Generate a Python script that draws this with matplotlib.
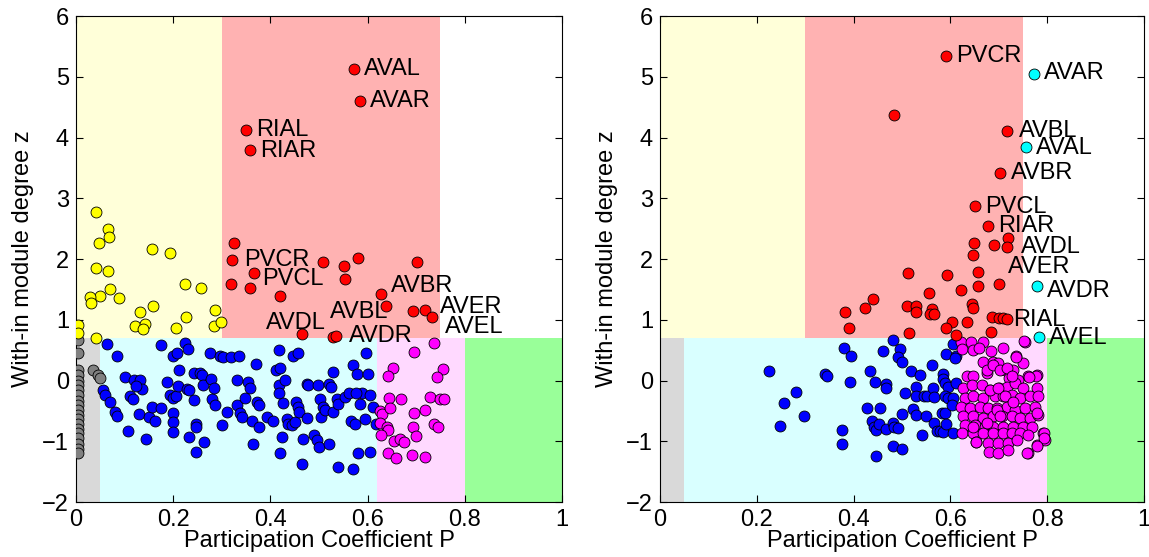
import numpy as np
import matplotlib.pyplot as plt
from matplotlib.patches import Rectangle

plt.rcParams['font.family'] = ['Liberation Sans', 'DejaVu Sans']

# role regions: (P0, P1, z0, z1, colour)
z_cut = 0.7
regions = [
    (0.00, 0.05, -2, z_cut, '#d9d9d9'),
    (0.05, 0.62, -2, z_cut, '#d9ffff'),
    (0.62, 0.80, -2, z_cut, '#ffd9ff'),
    (0.80, 1.00, -2, z_cut, '#99ff99'),
    (0.00, 0.30, z_cut, 6, '#ffffd9'),
    (0.30, 0.75, z_cut, 6, '#ffb2b2'),
]

# ---------- left panel ----------
L_gray_P = [0.004] * 20 + [0.036, 0.045, 0.050]
L_gray_z = [0.67, 0.45, 0.17, 0.09, 0.0, -0.08, -0.16, -0.24, -0.33, -0.41,
            -0.49, -0.57, -0.63, -0.71, -0.79, -0.87, -0.95, -1.04, -1.12, -1.20,
            0.18, 0.09, 0.04]

L_yellow_P = [0.042, 0.066, 0.068, 0.047, 0.156, 0.194, 0.042, 0.065, 0.224, 0.258,
              0.070, 0.050, 0.088, 0.029, 0.030, 0.159, 0.132, 0.287, 0.226, 0.122,
              0.142, 0.137, 0.205, 0.284, 0.299, 0.005, 0.005, 0.041]
L_yellow_z = [2.77, 2.50, 2.36, 2.26, 2.16, 2.10, 1.86, 1.80, 1.59, 1.53,
              1.50, 1.39, 1.36, 1.37, 1.27, 1.22, 1.12, 1.16, 1.04, 0.89,
              0.93, 0.85, 0.87, 0.89, 0.96, 0.91, 0.78, 0.70]

L_red_P = [0.573, 0.584, 0.349, 0.358, 0.326, 0.322, 0.509, 0.551, 0.581, 0.701,
           0.366, 0.318, 0.359, 0.420, 0.554, 0.627, 0.638, 0.693, 0.719, 0.732,
           0.465, 0.528, 0.536]
L_red_z = [5.12, 4.60, 4.13, 3.79, 2.26, 1.99, 1.95, 1.88, 2.01, 1.95,
           1.77, 1.59, 1.53, 1.39, 1.67, 1.43, 1.23, 1.15, 1.16, 1.05,
           0.77, 0.71, 0.74]

L_blue_P = [0.063, 0.084, 0.101, 0.111, 0.117, 0.120, 0.132, 0.135, 0.124, 0.055,
            0.060, 0.070, 0.080, 0.085, 0.108, 0.129, 0.145, 0.150, 0.156, 0.163,
            0.175, 0.176, 0.187, 0.194, 0.199, 0.205, 0.200, 0.207, 0.200, 0.200,
            0.200, 0.209, 0.213, 0.224, 0.230, 0.228, 0.233, 0.233, 0.242, 0.243,
            0.247, 0.247, 0.248, 0.255, 0.259, 0.262, 0.264, 0.275, 0.277, 0.279,
            0.284, 0.287, 0.296, 0.303, 0.301, 0.310, 0.319, 0.336, 0.331, 0.331,
            0.338, 0.341, 0.347, 0.355, 0.358, 0.362, 0.365, 0.371, 0.372, 0.377,
            0.377, 0.393, 0.406, 0.412, 0.420, 0.417, 0.417, 0.418, 0.420, 0.423,
            0.427, 0.431, 0.434, 0.437, 0.444, 0.451, 0.447, 0.456, 0.453, 0.456,
            0.458, 0.465, 0.467, 0.475, 0.478, 0.476, 0.489, 0.496, 0.500, 0.499,
            0.502, 0.504, 0.509, 0.513, 0.520, 0.524, 0.521, 0.528, 0.528, 0.537,
            0.540, 0.540, 0.554, 0.561, 0.566, 0.570, 0.578, 0.570, 0.574, 0.581,
            0.585, 0.588, 0.596, 0.595, 0.600, 0.604, 0.604, 0.612, 0.618, 0.577]
L_blue_z = [0.60, 0.40, 0.06, -0.26, -0.30, 0.01, 0.01, -0.14, -0.09, -0.16,
            -0.23, -0.35, -0.52, -0.58, -0.83, -0.55, -0.97, -0.60, -0.43, -0.67,
            0.58, -0.46, -0.02, -0.24, -0.29, -0.26, 0.41, 0.45, -0.54, -0.68,
            -0.84, -0.09, 0.18, 0.61, 0.52, -0.14, -0.16, -0.93, -0.32, 0.12,
            -0.71, -0.76, -1.18, 0.12, 0.09, -0.08, -1.01, 0.45, 0.03, -0.30,
            -0.13, -0.41, 0.41, 0.38, -0.74, -0.52, 0.38, 0.40, 0.01, -0.41,
            -0.54, -0.60, -0.29, -0.02, -0.13, -0.67, -1.04, 0.27, -0.35, -0.41,
            -0.76, -0.60, -0.67, 0.17, 0.20, -0.08, -0.21, 0.50, -1.19, -0.93,
            -0.37, 0.01, -0.63, -0.71, -0.74, -0.68, 0.40, 0.45, -0.35, -0.43,
            -0.52, -1.37, -0.97, -0.05, -0.08, -0.61, -0.90, -0.98, -1.09, -0.08,
            -0.30, -0.60, -0.43, -0.49, -0.05, -0.10, -1.04, 0.14, -0.52, -0.30,
            -0.38, -1.42, -0.27, -0.21, -0.67, 0.25, 0.10, -1.46, -0.71, -1.20,
            -0.38, -0.21, 0.46, -0.63, 0.10, -0.24, -1.18, -0.43, -0.71, -0.21]

L_mag_P = [0.736, 0.695, 0.652, 0.642, 0.756, 0.743, 0.644, 0.668, 0.729, 0.749,
           0.758, 0.625, 0.629, 0.646, 0.626, 0.640, 0.643, 0.719, 0.696, 0.693,
           0.700, 0.737, 0.744, 0.627, 0.655, 0.667, 0.674, 0.642, 0.659, 0.691,
           0.719]
L_mag_z = [0.62, 0.47, 0.20, 0.07, 0.19, 0.06, -0.28, -0.31, -0.27, -0.31,
           -0.31, -0.50, -0.55, -0.46, -0.70, -0.76, -0.82, -0.49, -0.53, -0.76,
           -0.91, -0.72, -0.76, -0.89, -1.00, -0.97, -1.01, -1.19, -1.27, -1.23,
           -1.26]

L_labels = ['AVAL', 'AVAR', 'RIAL', 'RIAR', 'PVCR', 'PVCL', 'AVBR', 'AVBL',
            'AVER', 'AVEL', 'AVDL', 'AVDR']
L_label_P = [0.593, 0.604, 0.371, 0.379, 0.345, 0.384, 0.649, 0.523,
             0.749, 0.760, 0.391, 0.561]
L_label_z = [5.12, 4.60, 4.13, 3.78, 1.98, 1.67, 1.56, 1.13,
             1.21, 0.88, 0.94, 0.73]

# ---------- right panel ----------
R_red_P = [0.590, 0.483, 0.716, 0.703, 0.650, 0.677, 0.719, 0.649, 0.691, 0.717,
           0.647, 0.512, 0.594, 0.658, 0.700, 0.658, 0.623, 0.555, 0.441, 0.424,
           0.382, 0.390, 0.510, 0.528, 0.528, 0.563, 0.558, 0.567, 0.644, 0.646,
           0.603, 0.635, 0.592, 0.612, 0.515, 0.687, 0.700, 0.709, 0.718, 0.683]
R_red_z = [5.35, 4.37, 4.10, 3.42, 2.87, 2.54, 2.34, 2.26, 2.23, 2.20,
           2.07, 1.77, 1.73, 1.79, 1.59, 1.55, 1.49, 1.44, 1.34, 1.20,
           1.13, 0.86, 1.23, 1.23, 1.13, 1.18, 1.09, 1.09, 1.26, 1.19,
           0.97, 0.96, 0.87, 0.75, 0.79, 1.04, 1.03, 1.03, 1.01, 0.80]

R_cyan_P = [0.772, 0.757, 0.780, 0.783]
R_cyan_z = [5.05, 3.84, 1.55, 0.71]

R_blue_P = [0.226, 0.281, 0.257, 0.298, 0.247, 0.342, 0.346, 0.381, 0.395, 0.393,
            0.377, 0.377, 0.427, 0.434, 0.444, 0.455, 0.460, 0.467, 0.467, 0.439,
            0.442, 0.446, 0.453, 0.468, 0.446, 0.482, 0.496, 0.492, 0.501, 0.481,
            0.483, 0.492, 0.481, 0.501, 0.501, 0.506, 0.519, 0.522, 0.528, 0.528,
            0.530, 0.537, 0.541, 0.546, 0.551, 0.550, 0.563, 0.565, 0.567, 0.566,
            0.572, 0.579, 0.585, 0.582, 0.589, 0.592, 0.605, 0.592, 0.606, 0.612,
            0.610, 0.584, 0.585, 0.589, 0.596, 0.588, 0.596, 0.606, 0.603, 0.612]
R_blue_z = [0.16, -0.19, -0.37, -0.58, -0.75, 0.10, 0.08, 0.53, 0.41, -0.02,
            -0.82, -1.05, -0.45, 0.15, -0.02, -0.45, 0.49, -0.06, -0.13, -0.66,
            -0.77, -0.81, -0.71, -0.79, -1.25, 0.66, 0.52, 0.38, 0.30, -0.70,
            -0.77, -0.78, -1.07, -1.13, -0.55, -0.20, 0.15, -0.47, -0.11, -0.26,
            -0.57, 0.09, -0.90, -0.26, -0.26, -0.58, 0.26, -0.13, -0.27, -0.70,
            -0.83, -0.83, -0.84, -0.54, -0.54, -0.71, -0.87, 0.44, 0.60, 0.41,
            0.37, 0.11, 0.03, -0.04, -0.11, -0.26, -0.29, -0.29, -0.40, -0.04]

R_mag_P = [0.623, 0.642, 0.667, 0.754, 0.625, 0.647, 0.660, 0.685, 0.708, 0.668,
           0.689, 0.736, 0.751, 0.699, 0.713, 0.729, 0.761, 0.778, 0.634, 0.647,
           0.675, 0.722, 0.740, 0.627, 0.644, 0.665, 0.682, 0.701, 0.716, 0.733,
           0.751, 0.778, 0.630, 0.647, 0.668, 0.692, 0.709, 0.727, 0.744, 0.764,
           0.782, 0.623, 0.640, 0.661, 0.678, 0.696, 0.716, 0.733, 0.754, 0.775,
           0.627, 0.647, 0.668, 0.689, 0.706, 0.727, 0.744, 0.764, 0.782, 0.630,
           0.651, 0.671, 0.689, 0.709, 0.730, 0.751, 0.768, 0.625, 0.647, 0.668,
           0.689, 0.709, 0.727, 0.744, 0.761, 0.792, 0.654, 0.678, 0.699, 0.720,
           0.737, 0.778, 0.795, 0.680, 0.699, 0.720, 0.761, 0.753, 0.794, 0.793,
           0.778, 0.759, 0.653, 0.777, 0.735, 0.762, 0.778, 0.675, 0.689, 0.702,
           0.716, 0.727, 0.682, 0.699, 0.713, 0.730, 0.696, 0.702, 0.675, 0.647]
R_mag_z = [0.63, 0.64, 0.64, 0.64, 0.52, 0.51, 0.53, 0.48, 0.53, 0.30,
           0.31, 0.40, 0.29, 0.29, 0.18, 0.18, 0.07, 0.09, 0.07, 0.07,
           0.12, 0.04, 0.01, -0.13, -0.07, -0.07, -0.15, -0.13, -0.10, -0.04,
           -0.13, -0.13, -0.29, -0.26, -0.29, -0.26, -0.26, -0.24, -0.29, -0.26,
           -0.26, -0.43, -0.46, -0.43, -0.46, -0.46, -0.43, -0.48, -0.46, -0.43,
           -0.59, -0.59, -0.62, -0.59, -0.59, -0.59, -0.62, -0.62, -0.57, -0.73,
           -0.73, -0.76, -0.76, -0.76, -0.76, -0.76, -0.76, -0.87, -0.87, -0.87,
           -0.87, -0.87, -0.87, -0.87, -0.90, -0.87, -1.01, -1.03, -1.03, -1.03,
           -0.98, -1.06, -0.98, -1.17, -1.19, -1.14, -1.20, 0.65, -0.87, -0.95,
           -1.07, -1.19, -1.01, 0.08, 0.38, 0.06, -0.54, 0.18, 0.26, 0.18,
           0.20, 0.07, -0.15, -0.13, -0.26, -0.35, -0.48, -0.59, -0.70, -0.76]

R_labels = ['PVCR', 'AVAR', 'AVBL', 'AVAL', 'AVBR', 'PVCL', 'RIAR', 'AVDL',
            'AVER', 'AVDR', 'RIAL', 'AVEL']
R_label_P = [0.612, 0.793, 0.742, 0.777, 0.725, 0.671, 0.699, 0.746,
             0.718, 0.800, 0.730, 0.804]
R_label_z = [5.35, 5.06, 4.10, 3.82, 3.42, 2.86, 2.55, 2.20,
             1.87, 1.47, 1.00, 0.70]

fig = plt.figure(figsize=(11.49, 5.57), dpi=100)
ax1 = fig.add_axes([0.0661, 0.0987, 0.423, 0.8725])
ax2 = fig.add_axes([0.5744, 0.0987, 0.4212, 0.8725])

fs = 17
mk = dict(s=62, edgecolors='black', linewidths=0.6, zorder=3)


def setup(ax):
    for p0, p1, z0, z1, c in regions:
        ax.add_patch(Rectangle((p0, z0), p1 - p0, z1 - z0, facecolor=c,
                               edgecolor='none', zorder=0))
    ax.set_xlim(0, 1)
    ax.set_ylim(-2, 6)
    ax.set_xticks([0, 0.2, 0.4, 0.6, 0.8, 1])
    ax.set_xticklabels(['0', '0.2', '0.4', '0.6', '0.8', '1'])
    ax.set_yticks(range(-2, 7))
    ax.tick_params(direction='in', top=True, right=True, length=5,
                   labelsize=fs, pad=5)
    ax.set_xlabel('Participation Coefficient P', fontsize=fs, labelpad=-1)
    ax.set_ylabel('With-in module degree z', fontsize=fs, labelpad=6)
    for sp in ax.spines.values():
        sp.set_linewidth(0.8)


setup(ax1)
ax1.scatter(L_gray_P, L_gray_z, c='#808080', **mk)
ax1.scatter(L_yellow_P, L_yellow_z, c='#ffff00', **mk)
ax1.scatter(L_blue_P, L_blue_z, c='#0000ff', **mk)
ax1.scatter(L_mag_P, L_mag_z, c='#ff00ff', **mk)
ax1.scatter(L_red_P, L_red_z, c='#ff0000', **mk)
for t, p, z in zip(L_labels, L_label_P, L_label_z):
    ax1.text(p, z, t, fontsize=fs, ha='left', va='center', zorder=4)

setup(ax2)
ax2.scatter(R_blue_P, R_blue_z, c='#0000ff', **mk)
ax2.scatter(R_mag_P, R_mag_z, c='#ff00ff', **mk)
ax2.scatter(R_red_P, R_red_z, c='#ff0000', **mk)
ax2.scatter(R_cyan_P, R_cyan_z, c='#00ffff', **mk)
for t, p, z in zip(R_labels, R_label_P, R_label_z):
    ax2.text(p, z, t, fontsize=fs, ha='left', va='center', zorder=4)

fig.savefig('out.png', dpi=100)
